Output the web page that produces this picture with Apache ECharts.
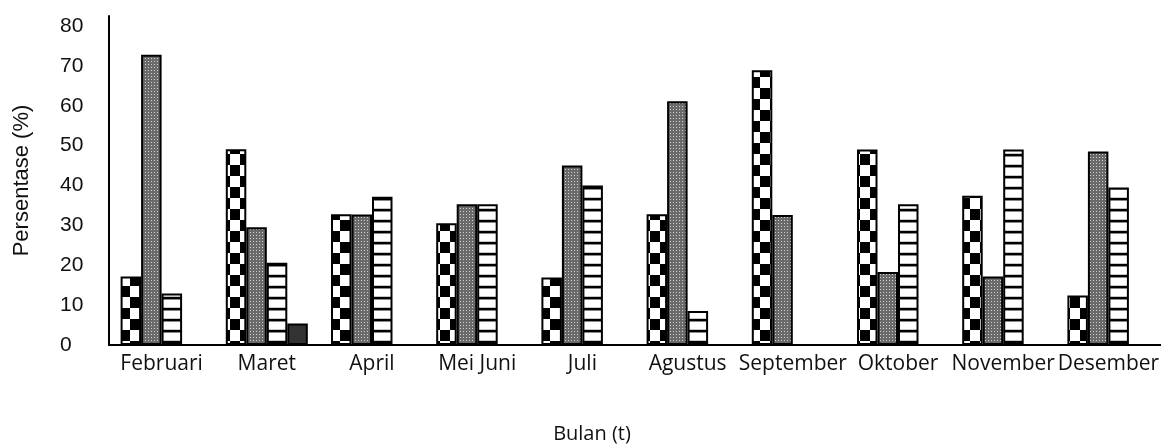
<!DOCTYPE html>
<html>
<head>
<meta charset="utf-8">
<script src="https://cdn.jsdelivr.net/npm/echarts@6/dist/echarts.min.js"></script>
<style>
  html, body { margin: 0; padding: 0; background: #ffffff; }
  #chart { width: 1161px; height: 446px; }
</style>
</head>
<body>
<div id="chart"></div>
<script>
// ---- data ----
const categories = ['Februari', 'Maret', 'April', 'Mei Juni', 'Juli', 'Agustus', 'September', 'Oktober', 'November', 'Desember'];
const seriesNames = ['Seri 1', 'Seri 2', 'Seri 3', 'Seri 4'];
const checkerValues = [17.2, 49.1, 32.8, 30.5, 16.9, 32.8, 68.9, 49.0, 37.4, 12.4];
const grayValues    = [72.8, 29.5, 32.7, 35.3, 45.0, 61.1, 32.6, 18.3, 17.2, 48.5];
const stripeValues  = [12.9, 20.6, 37.2, 35.3, 40.0, 8.5, null, 35.3, 49.0, 39.5];
const darkValues    = [null, 5.4, null, null, null, null, null, null, null, null];
const yTicks = [0, 10, 20, 30, 40, 50, 60, 70, 80];
const xAxisTitle = 'Bulan (t)';
const yAxisTitle = 'Persentase (%)';

// ---- fill patterns ----
function makeCanvas(w, h, draw) {
  const c = document.createElement('canvas');
  c.width = w; c.height = h;
  const ctx = c.getContext('2d');
  draw(ctx, w, h);
  return c;
}
const checkerPattern = makeCanvas(20, 22, (ctx) => {
  ctx.fillStyle = '#ffffff'; ctx.fillRect(0, 0, 20, 22);
  ctx.fillStyle = '#000000';
  ctx.fillRect(0, 0, 10, 11);
  ctx.fillRect(10, 11, 10, 11);
});
const grayPattern = makeCanvas(3, 3, (ctx) => {
  ctx.fillStyle = '#6a6a6a'; ctx.fillRect(0, 0, 3, 3);
  ctx.fillStyle = '#cfcfcf'; ctx.fillRect(1, 1, 1, 1);
});
const stripePattern = makeCanvas(8, 11, (ctx) => {
  ctx.fillStyle = '#ffffff'; ctx.fillRect(0, 0, 8, 11);
  ctx.fillStyle = '#000000'; ctx.fillRect(0, 0, 8, 2);
  ctx.fillStyle = '#8a8a8a'; ctx.fillRect(0, 2, 8, 1);
  ctx.fillStyle = '#c8c8c8'; ctx.fillRect(0, 10, 8, 1);
});

const barCommon = {
  type: 'bar',
  barWidth: 20.5,
  barGap: '0%',
  silent: true,
  animation: false
};
const border = { borderColor: '#000000', borderWidth: 2 };

const chart = echarts.init(document.getElementById('chart'), null, { renderer: 'canvas' });
chart.setOption({
  animation: false,
  backgroundColor: '#ffffff',
  grid: { left: 109, right: 0, top: 16, bottom: 101, containLabel: false, outerBoundsMode: 'none' },
  xAxis: {
    type: 'category',
    data: categories,
    boundaryGap: true,
    axisLine: { show: true, lineStyle: { color: '#000000', width: 2 } },
    axisTick: { show: false },
    axisLabel: { color: '#111111', fontFamily: 'Open Sans', fontSize: 21, margin: 9, interval: 0 },
    name: xAxisTitle,
    nameLocation: 'middle',
    nameGap: 79,
    nameTextStyle: { color: '#111111', fontFamily: 'Open Sans', fontSize: 20, padding: [0, 86, 0, 0] },
    splitLine: { show: false }
  },
  yAxis: {
    type: 'value',
    min: 0,
    max: 82.5,
    interval: 10,
    axisLine: { show: true, lineStyle: { color: '#000000', width: 2 } },
    axisTick: { show: false },
    splitLine: { show: false },
    axisLabel: {
      color: '#111111', fontFamily: 'Liberation Sans', fontSize: 21, align: 'left', margin: 49,
      formatter: (v) => (yTicks.indexOf(v) >= 0 ? String(v) : '')
    },
    name: yAxisTitle,
    nameLocation: 'middle',
    nameGap: 76,
    nameRotate: 90,
    nameTextStyle: { color: '#111111', fontFamily: 'Liberation Sans', fontSize: 22 }
  },
  series: [
    Object.assign({}, barCommon, { name: seriesNames[0], data: checkerValues,
      itemStyle: Object.assign({ color: { image: checkerPattern, repeat: 'repeat' } }, border) }),
    Object.assign({}, barCommon, { name: seriesNames[1], data: grayValues,
      itemStyle: Object.assign({ color: { image: grayPattern, repeat: 'repeat' } }, border) }),
    Object.assign({}, barCommon, { name: seriesNames[2], data: stripeValues,
      itemStyle: Object.assign({ color: { image: stripePattern, repeat: 'repeat' } }, border) }),
    Object.assign({}, barCommon, { name: seriesNames[3], data: darkValues,
      itemStyle: Object.assign({ color: '#333333' }, border) })
  ]
});
</script>
</body>
</html>
